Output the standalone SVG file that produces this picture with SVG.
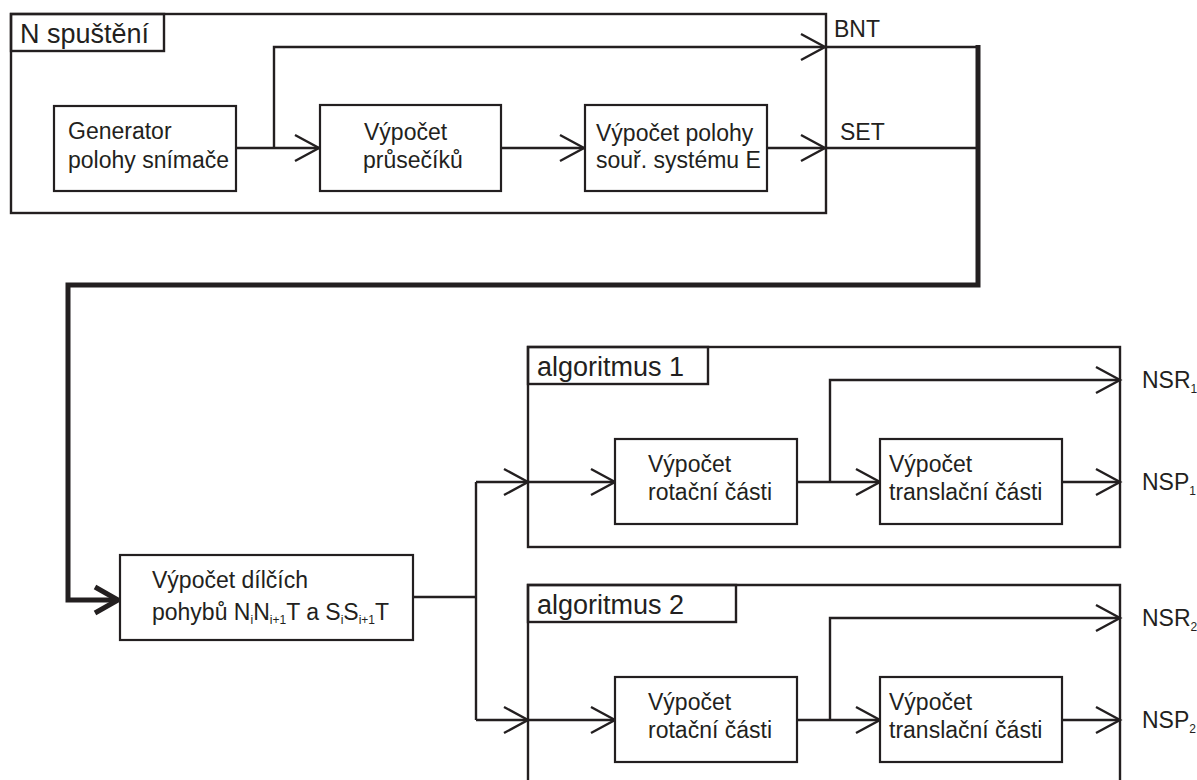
<svg xmlns="http://www.w3.org/2000/svg" width="1197" height="780" viewBox="0 0 1197 780">
<defs>
<style>
.frame{fill:none;stroke:#231f20;stroke-width:2.4}
.box{fill:#fff;stroke:#231f20;stroke-width:2.2}
.ln{fill:none;stroke:#231f20;stroke-width:2.4;stroke-linejoin:miter}
.thick{fill:none;stroke:#231f20;stroke-width:5;stroke-linejoin:miter}
.t{font-family:"Liberation Sans",Arial,sans-serif;font-size:23px;fill:#231f20}
.lab{font-family:"Liberation Sans",Arial,sans-serif;font-size:27px;fill:#231f20}
.sub{font-size:12px}
</style>
<marker id="arr" markerUnits="userSpaceOnUse" markerWidth="34" markerHeight="34" refX="28" refY="17" orient="auto" overflow="visible">
<path d="M4,4 L28,17 L4,30" fill="none" stroke="#231f20" stroke-width="2.4"/>
</marker>
<marker id="arrT" markerUnits="userSpaceOnUse" markerWidth="40" markerHeight="40" refX="30" refY="20" orient="auto" overflow="visible">
<path d="M7,7 L30,20 L7,33" fill="none" stroke="#231f20" stroke-width="5"/>
</marker>
</defs>
<rect width="1197" height="780" fill="#fff"/>

<g id="frame-n-spusteni">
<rect class="frame" x="11" y="14" width="815" height="199"/>
<rect class="frame" x="11" y="14" width="153" height="37"/>
<text class="lab" x="20" y="43">N spuštění</text>
</g>

<g id="frame-algoritmus-1">
<rect class="frame" x="528" y="347" width="592" height="200"/>
<rect class="frame" x="528" y="347" width="180" height="37"/>
<text class="lab" x="537" y="376">algoritmus 1</text>
</g>

<g id="frame-algoritmus-2">
<path class="frame" d="M528,782 V585 H1120 V782"/>
<rect class="frame" x="528" y="585" width="208" height="37"/>
<text class="lab" x="537" y="614">algoritmus 2</text>
</g>

<g id="connectors">
<path class="ln" d="M236,148 H319" marker-end="url(#arr)"/>
<path class="ln" d="M274,148 V47 H825" marker-end="url(#arr)"/>
<path class="ln" d="M501,148 H584" marker-end="url(#arr)"/>
<path class="ln" d="M767,148 H825" marker-end="url(#arr)"/>
<path class="ln" d="M826,47 H978"/>
<path class="ln" d="M826,148 H978"/>
<path class="thick" d="M978,45 V285 H68 V600 H118" marker-end="url(#arrT)"/>
<path class="ln" d="M413,597 H476"/>
<path class="ln" d="M476,482 V720"/>
<path class="ln" d="M476,482 H528" marker-end="url(#arr)"/>
<path class="ln" d="M476,720 H528" marker-end="url(#arr)"/>
<path class="ln" d="M529,482 H615" marker-end="url(#arr)"/>
<path class="ln" d="M797,482 H880" marker-end="url(#arr)"/>
<path class="ln" d="M830,482 V380 H1120" marker-end="url(#arr)"/>
<path class="ln" d="M1062,482 H1120" marker-end="url(#arr)"/>
<path class="ln" d="M529,720 H615" marker-end="url(#arr)"/>
<path class="ln" d="M797,720 H880" marker-end="url(#arr)"/>
<path class="ln" d="M830,720 V618 H1120" marker-end="url(#arr)"/>
<path class="ln" d="M1062,720 H1120" marker-end="url(#arr)"/>
</g>

<g id="node-generator">
<rect class="box" x="54" y="106" width="182" height="85"/>
<text class="t" x="68" y="139">Generator</text>
<text class="t" x="68" y="168">polohy snímače</text>
</g>
<g id="node-prusecik">
<rect class="box" x="320" y="105" width="181" height="86"/>
<text class="t" x="364" y="140">Výpočet</text>
<text class="t" x="363" y="168">průsečíků</text>
</g>
<g id="node-poloha-e">
<rect class="box" x="585" y="105" width="182" height="86"/>
<text class="t" x="596" y="141">Výpočet polohy</text>
<text class="t" x="596" y="168">souř. systému E</text>
</g>
<g id="label-bnt"><text class="t" x="834" y="37">BNT</text></g>
<g id="label-set"><text class="t" x="840" y="140">SET</text></g>

<g id="node-dilci-pohyby">
<rect class="box" x="120" y="555" width="293" height="85"/>
<text class="t" x="152" y="588">Výpočet dílčích</text>
<text class="t" x="152" y="620">pohybů N<tspan class="sub" dy="4">i</tspan><tspan dy="-4">N</tspan><tspan class="sub" dy="4">i+1</tspan><tspan dy="-4">T a S</tspan><tspan class="sub" dy="4">i</tspan><tspan dy="-4">S</tspan><tspan class="sub" dy="4">i+1</tspan><tspan dy="-4">T</tspan></text>
</g>

<g id="node-rotace-1">
<rect class="box" x="615" y="439" width="182" height="85"/>
<text class="t" x="648" y="472">Výpočet</text>
<text class="t" x="648" y="500">rotační části</text>
</g>
<g id="node-translace-1">
<rect class="box" x="880" y="439" width="182" height="85"/>
<text class="t" x="889" y="472">Výpočet</text>
<text class="t" x="889" y="500">translační části</text>
</g>
<g id="node-rotace-2">
<rect class="box" x="615" y="677" width="182" height="85"/>
<text class="t" x="648" y="710">Výpočet</text>
<text class="t" x="648" y="738">rotační části</text>
</g>
<g id="node-translace-2">
<rect class="box" x="880" y="677" width="182" height="85"/>
<text class="t" x="889" y="710">Výpočet</text>
<text class="t" x="889" y="738">translační části</text>
</g>

<g id="label-nsr1"><text class="t" x="1142" y="388">NSR<tspan class="sub" dy="5">1</tspan></text></g>
<g id="label-nsp1"><text class="t" x="1142" y="490">NSP<tspan class="sub" dy="5">1</tspan></text></g>
<g id="label-nsr2"><text class="t" x="1142" y="626">NSR<tspan class="sub" dy="5">2</tspan></text></g>
<g id="label-nsp2"><text class="t" x="1142" y="728">NSP<tspan class="sub" dy="5">2</tspan></text></g>
</svg>
